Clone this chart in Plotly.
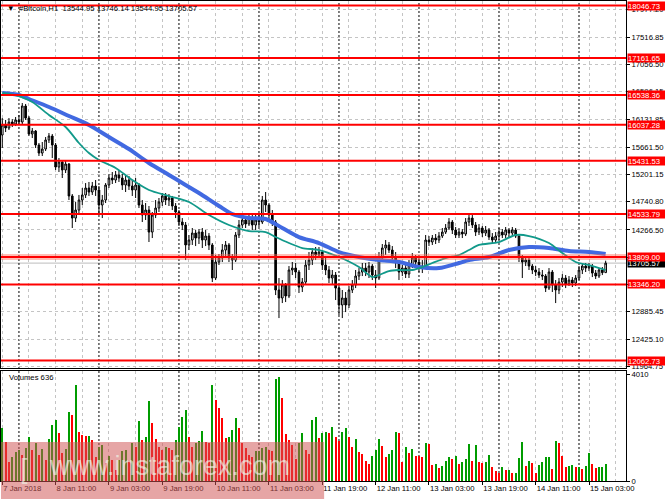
import plotly.graph_objects as go
import pandas as pd

# H1 bars, first bar 7 Jan 2018 19:00
start = "2018-01-07 19:00"

open_px = [15865, 16034, 15983, 16084, 16050, 16118, 16084, 16354, 16151, 15882,
           15932, 15696, 15561, 15629, 15781, 15848, 15696, 15325, 15409, 15275,
           15376, 14837, 14465, 14600, 14769, 14854, 14971, 14904, 15005, 14938,
           14685, 14769, 15022, 15140, 15106, 15191, 15140, 15022, 15106, 15005,
           14938, 15022, 14685, 14516, 14600, 14229, 14516, 14634, 14735, 14837,
           14769, 14803, 14668, 14566, 14398, 14348, 14011, 14095, 14212, 14128,
           14229, 14095, 14162, 14011, 13454, 13723, 13791, 13926, 14011, 13791,
           13757, 14179, 14348, 14432, 14365, 14465, 14348, 14432, 14398, 14769,
           14685, 14516, 14398, 13252, 13117, 13336, 13151, 13589, 13622, 13555,
           13302, 13386, 13673, 13757, 13892, 13842, 13892, 13673, 13589, 13454,
           13505, 13285, 12999, 13117, 12999, 13252, 13336, 13488, 13555, 13622,
           13555, 13656, 13505, 13454, 13791, 13960, 14011, 13926, 13791, 13723,
           13555, 13622, 13522, 13673, 13791, 13723, 13622, 13656, 14095, 14061,
           14128, 14095, 14162, 14229, 14297, 14398, 14263, 14179, 14229, 14196,
           14398, 14465, 14348, 14229, 14297, 14212, 14263, 14145, 14095, 14162,
           14229, 14179, 14263, 14212, 14263, 14162, 13791, 13723, 13757, 13656,
           13589, 13555, 13505, 13488, 13285, 13555, 13336, 13252, 13386, 13454,
           13353, 13420, 13369, 13454, 13589, 13656, 13622, 13656, 13538, 13488,
           13589, 13544.95]

high_px = [16151, 16118, 16151, 16134, 16168, 16202, 16404, 16388, 16185, 15983,
           15949, 15730, 15747, 15831, 15898, 15882, 15730, 15477, 15443, 15426,
           15392, 14870, 14735, 14854, 14971, 15055, 15073, 15073, 15106, 15005,
           14854, 15055, 15207, 15241, 15258, 15275, 15207, 15174, 15174, 15106,
           15140, 15055, 14769, 14718, 14668, 14567, 14769, 14803, 14887, 14887,
           14870, 14837, 14718, 14600, 14465, 14398, 14179, 14297, 14263, 14280,
           14297, 14263, 14212, 14044, 13842, 13859, 14027, 14078, 14044, 13859,
           14229, 14432, 14516, 14499, 14533, 14516, 14516, 14550, 14837, 14904,
           14718, 14600, 14432, 13454, 13420, 13370, 13656, 13724, 13707, 13589,
           13454, 13757, 13892, 13960, 13977, 13977, 13926, 13791, 13656, 13589,
           13555, 13336, 13252, 13218, 13319, 13420, 13589, 13622, 13707, 13707,
           13724, 13690, 13589, 13892, 14027, 14095, 14061, 13993, 13892, 13757,
           13673, 13673, 13757, 13875, 13842, 13791, 13757, 14179, 14162, 14179,
           14196, 14229, 14297, 14364, 14465, 14432, 14314, 14297, 14280, 14465,
           14550, 14516, 14398, 14364, 14331, 14331, 14297, 14212, 14229, 14297,
           14280, 14314, 14297, 14314, 14297, 14196, 13842, 13825, 13808, 13690,
           13656, 13622, 13589, 13521, 13622, 13589, 13420, 13454, 13521, 13504,
           13487, 13470, 13504, 13656, 13707, 13707, 13707, 13690, 13589, 13622,
           13639, 13746.14]

low_px = [15646, 15915, 15949, 16000, 16016, 16034, 16050, 16118, 15848, 15814,
          15646, 15511, 15511, 15595, 15730, 15477, 15275, 15241, 15140, 15224,
          14769, 14297, 14398, 14533, 14685, 14803, 14837, 14854, 14837, 14516,
          14465, 14718, 14971, 15039, 15055, 15073, 14938, 14904, 14938, 14837,
          14803, 14634, 14398, 14432, 14061, 14128, 14465, 14567, 14668, 14685,
          14668, 14600, 14465, 14331, 14263, 13757, 13926, 14011, 13993, 14027,
          13960, 13993, 13926, 13386, 13420, 13673, 13724, 13825, 13724, 13589,
          13724, 14128, 14297, 14297, 14331, 14263, 14263, 14314, 14364, 14567,
          14398, 14331, 13167, 12779, 13032, 13049, 13116, 13504, 13454, 13201,
          13218, 13336, 13589, 13673, 13757, 13791, 13589, 13504, 13370, 13353,
          13083, 12830, 12779, 12880, 12948, 13201, 13285, 13420, 13487, 13487,
          13454, 13420, 13285, 13420, 13724, 13842, 13875, 13724, 13622, 13420,
          13487, 13454, 13454, 13622, 13622, 13555, 13538, 13622, 13993, 14011,
          14027, 14044, 14128, 14196, 14263, 14196, 14128, 14128, 14128, 14162,
          14331, 14297, 14162, 14179, 14145, 14162, 14095, 14027, 14044, 14095,
          14128, 14128, 14145, 14162, 14128, 13724, 13454, 13656, 13589, 13521,
          13487, 13454, 13420, 13218, 13252, 13218, 13032, 13184, 13302, 13285,
          13319, 13302, 13319, 13420, 13521, 13555, 13572, 13470, 13437, 13454,
          13504, 13544.95]

close_px = [16034, 15983, 16084, 16050, 16118, 16084, 16354, 16151, 15882, 15932,
            15696, 15561, 15629, 15781, 15848, 15696, 15325, 15409, 15275, 15376,
            14837, 14465, 14600, 14769, 14854, 14971, 14904, 15005, 14938, 14685,
            14769, 15022, 15140, 15106, 15191, 15140, 15022, 15106, 15005, 14938,
            15022, 14685, 14516, 14600, 14229, 14516, 14634, 14735, 14837, 14769,
            14803, 14668, 14566, 14398, 14348, 14011, 14095, 14212, 14128, 14229,
            14095, 14162, 14011, 13454, 13723, 13791, 13926, 14011, 13791, 13757,
            14179, 14348, 14432, 14365, 14465, 14348, 14432, 14398, 14769, 14685,
            14516, 14398, 13252, 13117, 13336, 13151, 13589, 13622, 13555, 13302,
            13386, 13673, 13757, 13892, 13842, 13892, 13673, 13589, 13454, 13505,
            13285, 12999, 13117, 12999, 13252, 13336, 13488, 13555, 13622, 13555,
            13656, 13505, 13454, 13791, 13960, 14011, 13926, 13791, 13723, 13555,
            13622, 13522, 13673, 13791, 13723, 13622, 13656, 14095, 14061, 14128,
            14095, 14162, 14229, 14297, 14398, 14263, 14179, 14229, 14196, 14398,
            14465, 14348, 14229, 14297, 14212, 14263, 14145, 14095, 14162, 14229,
            14179, 14263, 14212, 14263, 14162, 13791, 13723, 13757, 13656, 13589,
            13555, 13505, 13488, 13285, 13555, 13336, 13252, 13386, 13454, 13353,
            13420, 13369, 13454, 13589, 13656, 13622, 13656, 13538, 13488, 13589,
            13544.95, 13705.57]

volumes = [2000, 1475, 725, 912, 1100, 1162, 975, 1225, 1637, 1162,
           1412, 975, 1187, 787, 1562, 2100, 2287, 1787, 1037, 1187,
           2600, 2475, 3600, 1850, 1725, 1687, 1687, 1537, 912, 1262,
           1350, 662, 937, 787, 412, 787, 1137, 1162, 787, 1412,
           1287, 2250, 1537, 1637, 3012, 2162, 1575, 1262, 1162, 1262,
           1225, 1162, 1537, 2037, 2412, 2662, 1637, 1262, 1412, 1512,
           1887, 1475, 1412, 3600, 3037, 2750, 2350, 1600, 1637, 1912,
           2350, 1975, 1412, 1225, 975, 912, 1137, 1137, 1225, 1262,
           1162, 1137, 3812, 3912, 3100, 1762, 1537, 1350, 837, 1437,
           1812, 1162, 1012, 2287, 2387, 1600, 1812, 1850, 1812, 2037,
           1662, 1500, 1850, 2000, 1662, 1262, 1575, 1087, 1012, 762,
           637, 950, 1162, 1575, 1325, 912, 1012, 1162, 1850, 1787,
           712, 1262, 1037, 1187, 950, 937, 912, 1412, 1387, 600,
           637, 475, 562, 762, 887, 812, 937, 637, 700, 825,
           1387, 762, 1350, 725, 662, 725, 975, 537, 387, 287,
           537, 412, 412, 287, 287, 850, 1475, 562, 762, 662,
           312, 600, 725, 887, 912, 437, 1512, 1437, 937, 537,
           562, 587, 537, 537, 450, 562, 1037, 637, 475, 537,
           537, 636]

# moving averages read at sample bars (bar index, value)
ma_slow_idx = [0, 5, 8, 14, 20, 26, 32, 38, 44, 50, 54, 59, 65, 69, 74, 79, 84, 89,
               95, 101, 107, 113, 119, 125, 131, 137, 140, 146, 152, 158, 164, 170, 176, 181]
ma_slow_val = [16573, 16539, 16472, 16337, 16185, 16034, 15831, 15629, 15393, 15191,
               15056, 14887, 14668, 14533, 14466, 14449, 14297, 14145, 14044, 13892,
               13808, 13757, 13724, 13639, 13622, 13707, 13757, 13808, 13926, 13977,
               13960, 13909, 13892, 13859]
ma_fast_idx = [0, 5, 9, 14, 19, 23, 26, 29, 34, 39, 44, 50, 56, 62, 68, 74, 79, 82, 86,
               90, 95, 101, 107, 111, 113, 116, 119, 123, 126, 129, 133, 137, 140, 143,
               149, 154, 158, 164, 168, 172, 176, 181]
ma_fast_val = [16573, 16522, 16421, 16202, 16000, 15730, 15561, 15443, 15309, 15106,
               14938, 14836, 14735, 14516, 14348, 14246, 14229, 14145, 14044, 13960,
               13926, 13808, 13639, 13470, 13504, 13572, 13589, 13589, 13639, 13707,
               13791, 13842, 13926, 14011, 14061, 14179, 14162, 14044, 13875, 13724,
               13673, 13589]

levels = [18046.73, 17161.65, 16538.36, 16037.28, 15431.53, 14533.79, 13809.00, 13346.20, 12062.73]
price_ticks = [11964.75, 12425.10, 12885.45, 13345.80, 13806.15, 14266.50, 14740.80,
               15201.15, 15661.50, 16131.85, 16596.15, 17056.50, 17516.85, 17977.20]
bid = 13705.57
vol_ticks = [0, 4010]

x_label_times = ["2018-01-07 19:00", "2018-01-08 11:00", "2018-01-09 03:00", "2018-01-09 19:00",
                 "2018-01-10 11:00", "2018-01-11 03:00", "2018-01-11 19:00", "2018-01-12 11:00",
                 "2018-01-13 03:00", "2018-01-13 19:00", "2018-01-14 11:00", "2018-01-15 03:00"]
x_label_text = ["7 Jan 2018", "8 Jan 11:00", "9 Jan 03:00", "9 Jan 19:00", "10 Jan 11:00",
                "11 Jan 03:00", "11 Jan 19:00", "12 Jan 11:00", "13 Jan 03:00", "13 Jan 19:00",
                "14 Jan 11:00", "15 Jan 03:00"]
day_starts = ["2018-01-08", "2018-01-09", "2018-01-10", "2018-01-11",
              "2018-01-12", "2018-01-13", "2018-01-14", "2018-01-15"]

times = pd.date_range(start, periods=len(close_px), freq="h")
x_range = [times[0] - pd.Timedelta(minutes=23), times[0] + pd.Timedelta(minutes=11226)]

GRID = "#c4c4c4"
FONT = dict(family="Liberation Sans, Arial, sans-serif", size=7.7, color="black")

fig = go.Figure()

fig.add_trace(go.Candlestick(
    x=times, open=open_px, high=high_px, low=low_px, close=close_px,
    increasing=dict(line=dict(color="black", width=1), fillcolor="white"),
    decreasing=dict(line=dict(color="black", width=1), fillcolor="black"),
    whiskerwidth=0, showlegend=False, hoverinfo="skip", xaxis="x", yaxis="y"))

fig.add_trace(go.Scatter(
    x=times[ma_slow_idx], y=ma_slow_val, mode="lines",
    line=dict(color="#4169e1", width=4, shape="spline", smoothing=0.8),
    showlegend=False, hoverinfo="skip", xaxis="x", yaxis="y"))
fig.add_trace(go.Scatter(
    x=times[ma_fast_idx], y=ma_fast_val, mode="lines",
    line=dict(color="#11998a", width=1.8, shape="spline", smoothing=0.8),
    showlegend=False, hoverinfo="skip", xaxis="x", yaxis="y"))

# MT4 volumes: green when rising, red when falling
vol_colors = ["#009c00" if i == 0 or v >= volumes[i - 1] else "#ff0000" for i, v in enumerate(volumes)]
fig.add_trace(go.Bar(
    x=times, y=volumes, marker=dict(color=vol_colors, line=dict(width=0)),
    width=3600 * 1000 * 0.62, showlegend=False, hoverinfo="skip", xaxis="x2", yaxis="y2"))

# bid line
fig.add_shape(type="line", xref="x domain", x0=0, x1=1, yref="y", y0=bid, y1=bid,
              line=dict(color="#bdbdbd", width=1), layer="below")
# day separators
for d in day_starts:
    fig.add_shape(type="line", xref="x", x0=d, x1=d, yref="paper", y0=0, y1=1,
                  line=dict(color="black", width=1, dash="2px,2px"), layer="below")
# support / resistance levels
for lv in levels:
    if lv == 13809.00:
        fig.add_shape(type="line", xref="x domain", x0=0, x1=1, yref="y", y0=lv, y1=lv,
                      line=dict(color="rgba(255,110,90,0.45)", width=6))
    fig.add_shape(type="line", xref="x domain", x0=0, x1=1, yref="y", y0=lv, y1=lv,
                  line=dict(color="#ff0000", width=2))

# watermark band
fig.add_shape(type="rect", xref="paper", x0=0, x1=0.517, yref="paper", y0=-0.04, y1=0.081,
              fillcolor="rgba(208,85,85,0.53)", line=dict(width=0), layer="above")

fig.add_annotation(xref="paper", x=1, xanchor="left", xshift=1, yref="y", y=bid,
                   text=f"{bid:.2f}", showarrow=False, bgcolor="black",
                   font=dict(family=FONT["family"], size=7.7, color="white"),
                   width=37, height=8, align="left", borderpad=0)
for lv in levels:
    fig.add_annotation(xref="paper", x=1, xanchor="left", xshift=1, yref="y", y=lv,
                       text=f"{lv:.2f}", showarrow=False, bgcolor="#ff0000",
                       font=dict(family=FONT["family"], size=7.7, color="white"),
                       width=37, height=8, align="left", borderpad=0)

fig.add_annotation(xref="paper", x=0.006, xanchor="left", yref="paper", y=0.985,
                   yanchor="middle",
                   text="\u25bc  #Bitcoin,H1  13544.95 13746.14 13544.95 13705.57",
                   showarrow=False, font=FONT)
fig.add_annotation(xref="paper", x=0.009, xanchor="left", yref="paper", y=0.2146,
                   yanchor="middle", text="Volumes 636", showarrow=False, font=FONT)
fig.add_annotation(xref="paper", x=0.27, xanchor="center", yref="paper", y=0.031,
                   yanchor="middle", text="www.instaforex.com", showarrow=False,
                   font=dict(family=FONT["family"], size=27, color="rgba(240,255,240,0.6)"))
fig.add_annotation(xref="paper", x=0.037, xanchor="center", yref="paper", y=0.026,
                   yanchor="middle", text="[", showarrow=False,
                   font=dict(family=FONT["family"], size=27, color="rgba(240,255,240,0.6)"))

minor_grid = dict(tick0="2018-01-07 03:00", dtick=8 * 3600 * 1000, showgrid=True,
                  gridcolor=GRID, griddash="3px,3px", gridwidth=1, ticks="")

fig.update_layout(
    width=665, height=499,
    margin=dict(l=1, r=39, t=1, b=18, autoexpand=False),
    paper_bgcolor="white", plot_bgcolor="white",
    font=FONT, hovermode=False, showlegend=False, bargap=0,
    xaxis=dict(domain=[0, 1], anchor="y", matches="x2", range=x_range, type="date",
               rangeslider=dict(visible=False), tickmode="array", tickvals=x_label_times,
               showticklabels=False, ticks="", showgrid=True, gridcolor=GRID,
               griddash="3px,3px", minor=minor_grid, showline=True, mirror=True,
               linecolor="black", linewidth=1, zeroline=False, automargin=False),
    yaxis=dict(domain=[0.2354, 1], anchor="x", side="right", range=[11937, 18124],
               tickmode="array", tickvals=price_ticks, ticktext=[f"{v:.2f}" for v in price_ticks],
               ticks="outside", ticklen=3, tickcolor="black", showgrid=True, gridcolor=GRID,
               griddash="3px,3px", showline=True, mirror=True, linecolor="black",
               linewidth=1, zeroline=False, tickfont=FONT, automargin=False),
    xaxis2=dict(domain=[0, 1], anchor="y2", range=x_range, type="date",
                tickmode="array", tickvals=x_label_times, ticktext=x_label_text,
                ticklabelposition="outside right", tickangle=0, ticks="outside", ticklen=3,
                tickcolor="black", showgrid=True, gridcolor=GRID, griddash="3px,3px",
                minor=minor_grid, showline=True, mirror=True, linecolor="black",
                linewidth=1, zeroline=False, tickfont=FONT, automargin=False),
    yaxis2=dict(domain=[0, 0.229], anchor="x2", side="right", range=[0, 4125],
                tickmode="array", tickvals=vol_ticks, ticks="outside", ticklen=3,
                tickcolor="black", showgrid=False, showline=True, mirror=True,
                linecolor="black", linewidth=1, zeroline=False, tickfont=FONT,
                automargin=False),
)

fig.write_html("out.html", config={"displayModeBar": False},
               post_script="document.body.style.margin='0';document.body.style.overflow='hidden';")
